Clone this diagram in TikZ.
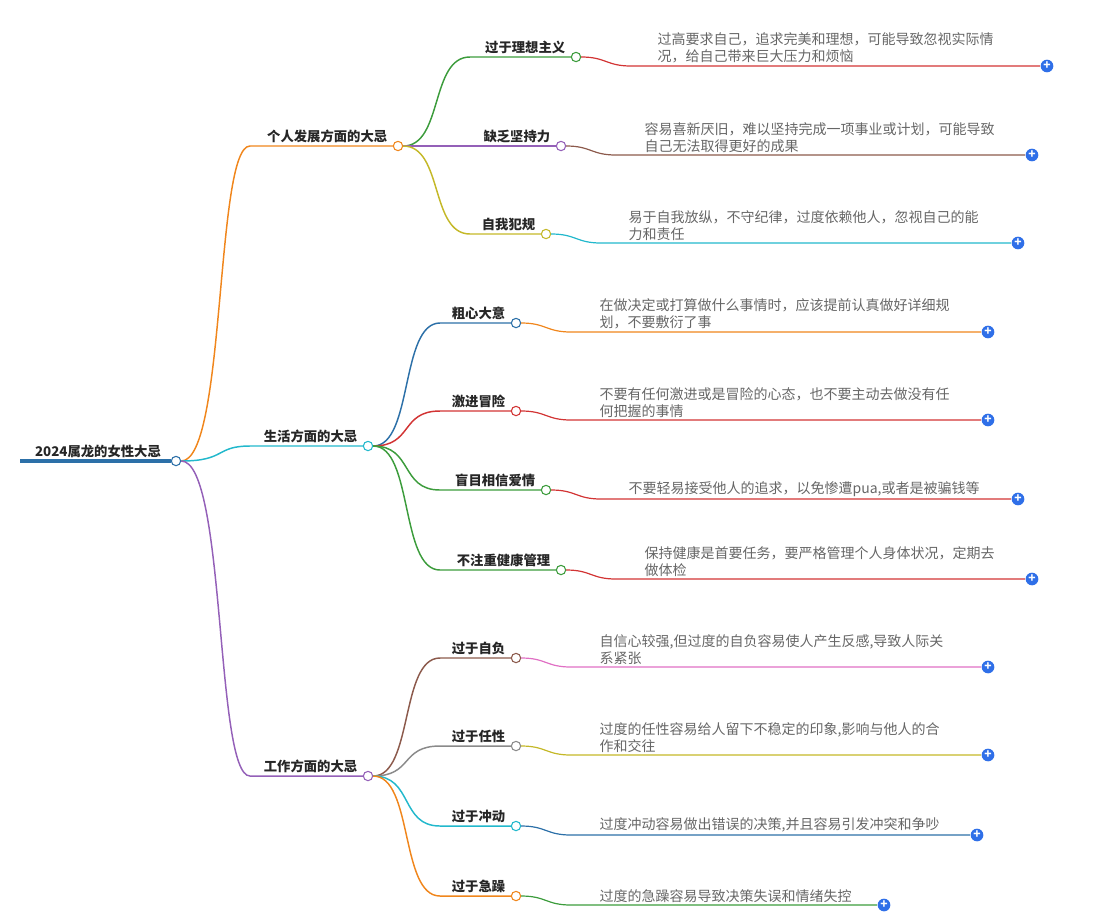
\documentclass[tikz,border=0pt]{standalone}
\usepackage{fontspec}
\setmainfont{Noto Sans CJK SC}
\usetikzlibrary{positioning,calc}
\definecolor{mmorange}{HTML}{F0861C}
\definecolor{mmcyan}{HTML}{22B8CC}
\definecolor{mmpurple}{HTML}{9460B8}
\definecolor{mmgreen}{HTML}{3C9C3C}
\definecolor{mmred}{HTML}{D23434}
\definecolor{mmbrown}{HTML}{8C5A4C}
\definecolor{mmolive}{HTML}{C4B828}
\definecolor{mmblue}{HTML}{2C70A8}
\definecolor{mmpink}{HTML}{E070C4}
\definecolor{mmgray}{HTML}{8A8A8A}
\definecolor{mmplus}{HTML}{2F6FE8}
\definecolor{mmtext}{HTML}{666666}

\begin{document}
\begin{tikzpicture}[x=0.75pt,y=-0.75pt,
	dot/.style={circle, draw, fill=white, inner sep=0pt, minimum size=7pt, line width=0.8pt},
	lab/.style={font=\fontsize{10}{12}\selectfont\bfseries, text=black!85, inner sep=1pt},
	txt/.style={font=\fontsize{10.5}{12.75}\selectfont, text=mmtext, align=left, inner sep=1pt},
	plus/.style={circle, fill=mmplus, inner sep=0pt, minimum size=9.5pt, text=white, font=\bfseries\fontsize{9}{9}\selectfont}]
	\useasboundingbox (0,0) rectangle (1098,915);
	%% root
	\coordinate (r0) at (20,461);
	\node[dot, draw=mmblue] (r) at (176,461) {};
	\draw[mmblue, line width=2.6pt] (r0) -- (r.west);
	\node[lab, anchor=south] at (98,459) {2024属龙的女性大忌};
	%% main branches
	\foreach \nm/\cx/\cy/\c/\lab in {k/398/146/mmorange/个人发展方面的大忌, s/368/446/mmcyan/生活方面的大忌, w/368/776/mmpurple/工作方面的大忌}{
		\node[dot, draw=\c] (\nm) at (\cx,\cy) {};
		\coordinate (\nm-s) at (250,\cy);
		\draw[\c, line width=1.1pt] (r.east) .. controls +(45,0) and +(-35,0) .. (\nm-s) -- (\nm.west);
		\node[lab, anchor=south east] at ([xshift=-3pt,yshift=1pt]\nm.west) {\lab};
	}
	%% leaves
	\foreach \nm/\px/\cx/\cy/\sx/\c/\lab/\dc/\tx/\ex/\txt in {
		k1/k/576/57/470/mmgreen/过于理想主义/mmred/656/1040/{过高要求自己，追求完美和理想，可能导致忽视实际情\\况，给自己带来巨大压力和烦恼},
		k2/k/561/146/470/mmpurple/缺乏坚持力/mmbrown/643/1025/{容易喜新厌旧，难以坚持完成一项事业或计划，可能导致\\自己无法取得更好的成果},
		k3/k/546/234/470/mmolive/自我犯规/mmcyan/627/1011/{易于自我放纵，不守纪律，过度依赖他人，忽视自己的能\\力和责任},
		s1/s/516/323/440/mmblue/粗心大意/mmorange/598/981/{在做决定或打算做什么事情时，应该提前认真做好详细规\\划，不要敷衍了事},
		s2/s/516/411/440/mmred/激进冒险/mmred/598/981/{不要有任何激进或是冒险的心态，也不要主动去做没有任\\何把握的事情},
		s3/s/546/490/440/mmgreen/盲目相信爱情/mmred/627/1011/{不要轻易接受他人的追求，以免惨遭pua,或者是被骗钱等},
		s4/s/561/570/440/mmgreen/不注重健康管理/mmred/643/1025/{保持健康是首要任务，要严格管理个人身体状况，定期去\\做体检},
		w1/w/516/658/440/mmbrown/过于自负/mmpink/598/981/{自信心较强,但过度的自负容易使人产生反感,导致人际关\\系紧张},
		w2/w/516/746/440/mmgray/过于任性/mmolive/598/981/{过度的任性容易给人留下不稳定的印象,影响与他人的合\\作和交往},
		w3/w/516/826/440/mmcyan/过于冲动/mmblue/598/970/{过度冲动容易做出错误的决策,并且容易引发冲突和争吵},
		w4/w/516/896/440/mmorange/过于急躁/mmgreen/598/877/{过度的急躁容易导致决策失误和情绪失控}}{
		\node[dot, draw=\c] (\nm) at (\cx,\cy) {};
		\coordinate (\nm-s) at (\sx,\cy);
		\draw[\c, line width=1.1pt] (\px.east) .. controls +(40,0) and +(-40,0) .. (\nm-s) -- (\nm.west);
		\node[lab, anchor=south east] at ([xshift=-3pt,yshift=1pt]\nm.west) {\lab};
		\coordinate (\nm-m) at (\cx+55,\cy+9);
		\coordinate (\nm-e) at (\ex,\cy+9);
		\draw[\dc, line width=0.9pt] (\nm.east) .. controls +(25,0) and +(-25,0) .. (\nm-m) -- (\nm-e);
		\node[plus] (\nm-p) at (\ex+7,\cy+9) {+};
		\node[txt, anchor=south west] at (\tx,\cy+8) {\txt};
	}
\end{tikzpicture}
\end{document}
